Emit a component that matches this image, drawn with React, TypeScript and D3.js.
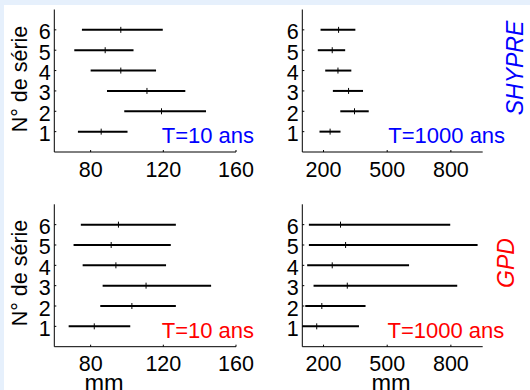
import React from "react";
import * as d3 from "d3";

// Row numbers (N° de série)
const series = [1, 2, 3, 4, 5, 6];
const yTicks = [1, 2, 3, 4, 5, 6];

// SHYPRE, T=10 ans : [low, central, high]
const shypreT10Low = [73, 98.5, 89, 80, 71, 75.2];
const shypreT10Mid = [85.8, 119, 111, 96.6, 88, 96.6];
const shypreT10High = [100.3, 143.5, 132.1, 116, 103.6, 119.7];

// SHYPRE, T=1000 ans
const shypreT1000Low = [181, 279, 244, 208, 173, 186];
const shypreT1000Mid = [231, 346, 318, 268, 241, 271];
const shypreT1000High = [280, 413, 386, 331, 302, 350];

// GPD, T=10 ans
const gpdT10Low = [67.9, 85.3, 86.6, 75.6, 70.6, 74.6];
const gpdT10Mid = [82, 102.7, 110.5, 93.9, 91.3, 95.3];
const gpdT10High = [101.8, 126.9, 146.3, 121.5, 124.1, 126.9];

// GPD, T=1000 ans
const gpdT1000Low = [100, 114, 153, 123, 131, 131];
const gpdT1000Mid = [168, 192, 312, 241, 304, 280];
const gpdT1000High = [367, 398, 830, 603, 926, 797];

const ticksT10 = [80, 120, 160];
const ticksT1000 = [200, 500, 800];

const FONT = "'Liberation Sans', Arial, Helvetica, sans-serif";

type PanelProps = {
  left: number;
  right: number;
  top: number;
  bottom: number;
  domain: [number, number];
  ticks: number[];
  low: number[];
  mid: number[];
  high: number[];
};

function Panel({ left, right, top, bottom, domain, ticks, low, mid, high }: PanelProps) {
  const x = d3.scaleLinear().domain(domain).range([left, right]);
  const y = d3.scaleLinear().domain([0, 7]).range([bottom, top]);
  return (
    <g>
      {series.map((s, i) => (
        <g key={s}>
          <line
            x1={x(Math.max(low[i], domain[0]))}
            x2={x(high[i])}
            y1={y(s)}
            y2={y(s)}
            stroke="#000"
            strokeWidth={2}
          />
          <line x1={x(mid[i])} x2={x(mid[i])} y1={y(s) - 3} y2={y(s) + 3} stroke="#000" strokeWidth={1} />
        </g>
      ))}
      <line x1={left} x2={left} y1={top} y2={bottom} stroke="#000" strokeWidth={1} />
      <line x1={left} x2={right} y1={bottom} y2={bottom} stroke="#000" strokeWidth={1} />
      {ticks.map((t) => (
        <g key={t}>
          <line x1={x(t)} x2={x(t)} y1={bottom} y2={bottom - 2} stroke="#000" strokeWidth={1} />
          <text x={x(t)} y={bottom + 24.5} textAnchor="middle" fontSize={21.5} fontFamily={FONT} fill="#000">
            {t}
          </text>
        </g>
      ))}
      {yTicks.map((t) => (
        <g key={t}>
          <line x1={left} x2={left + 2} y1={y(t)} y2={y(t)} stroke="#000" strokeWidth={1} />
          <text x={left - 3.5} y={y(t) + 9.5} textAnchor="end" fontSize={21.5} fontFamily={FONT} fill="#000">
            {t}
          </text>
        </g>
      ))}
    </g>
  );
}

export default function App() {
  const W = 530;
  const H = 390;
  const L1 = 54.3, R1 = 236, L2 = 302.3, R2 = 482.7;
  const T1 = 9.5, B1 = 152, T2 = 204.3, B2 = 346.7;
  return (
    <svg width={W} height={H} style={{ position: "absolute", left: 0, top: 0 }}>
      <rect x={0} y={0} width={W} height={H} fill="#e6f0fc" />
      <rect x={4} y={5} width={W - 4} height={H - 5} fill="#ffffff" />

      <Panel left={L1} right={R1} top={T1} bottom={B1} domain={[60, 160]} ticks={ticksT10}
        low={shypreT10Low} mid={shypreT10Mid} high={shypreT10High} />
      <Panel left={L2} right={R2} top={T1} bottom={B1} domain={[100, 950]} ticks={ticksT1000}
        low={shypreT1000Low} mid={shypreT1000Mid} high={shypreT1000High} />
      <Panel left={L1} right={R1} top={T2} bottom={B2} domain={[60, 160]} ticks={ticksT10}
        low={gpdT10Low} mid={gpdT10Mid} high={gpdT10High} />
      <Panel left={L2} right={R2} top={T2} bottom={B2} domain={[100, 950]} ticks={ticksT1000}
        low={gpdT1000Low} mid={gpdT1000Mid} high={gpdT1000High} />

      {/* y labels */}
      <text transform="translate(27,79) rotate(-90)" textAnchor="middle" fontSize={21.5} fontFamily={FONT} fill="#000">
        N° de série
      </text>
      <text transform="translate(27,273) rotate(-90)" textAnchor="middle" fontSize={21.5} fontFamily={FONT} fill="#000">
        N° de série
      </text>

      {/* x labels */}
      <text x={104} y={391} textAnchor="middle" fontSize={23.5} fontFamily={FONT} fill="#000">mm</text>
      <text x={391} y={391} textAnchor="middle" fontSize={23.5} fontFamily={FONT} fill="#000">mm</text>

      {/* annotations */}
      <text x={161.7} y={142.5} fontSize={22} fontFamily={FONT} fill="#0000ff">T=10 ans</text>
      <text x={388.3} y={142.5} fontSize={22} fontFamily={FONT} fill="#0000ff">T=1000 ans</text>
      <text x={161.7} y={337.5} fontSize={22} fontFamily={FONT} fill="#ff0000">T=10 ans</text>
      <text x={387.5} y={337.5} fontSize={22} fontFamily={FONT} fill="#ff0000">T=1000 ans</text>

      <text transform="translate(523,68) rotate(-90)" textAnchor="middle" fontSize={23} fontStyle="italic" fontFamily={FONT} fill="#0000ff">
        SHYPRE
      </text>
      <text transform="translate(514,263) rotate(-90)" textAnchor="middle" fontSize={23} fontStyle="italic" fontFamily={FONT} fill="#ff0000">
        GPD
      </text>
    </svg>
  );
}
